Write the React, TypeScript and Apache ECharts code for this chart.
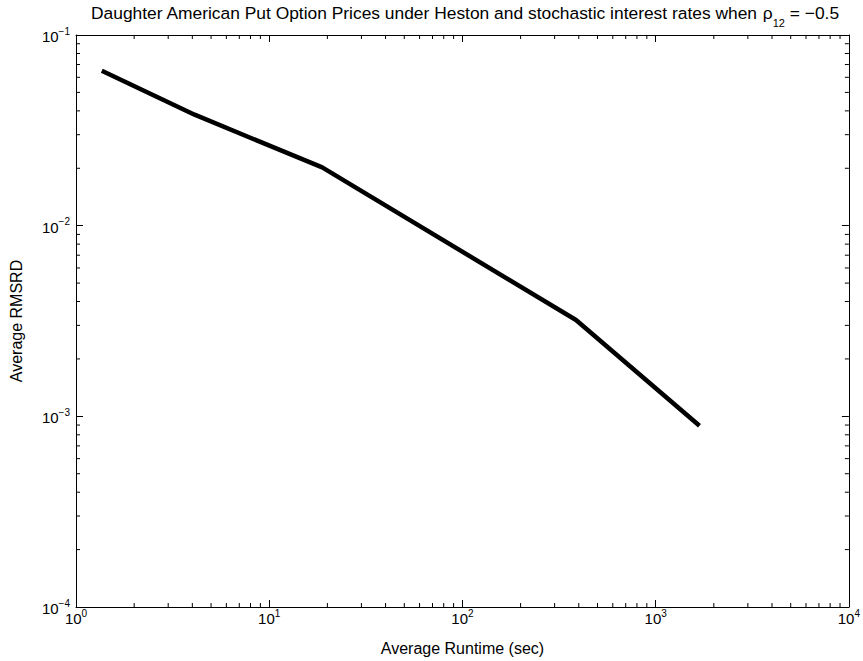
import React, { useEffect, useRef } from "react";
import * as echarts from "echarts";

const runtimeSec = [1.36, 4.11, 18.8, 387, 1686];
const avgRmsrd = [0.0649, 0.0382, 0.0202, 0.0032, 0.000893];
const xRange = [1, 10000];
const yRange = [0.0001, 0.1];
const minorMultipliers = [2, 3, 4, 5, 6, 7, 8, 9];

const FONT = "'Liberation Sans', Arial, Helvetica, sans-serif";

const expLabel = (v: number) => {
  const e = Math.round(Math.log10(v));
  const s = e < 0 ? "\u2212" + Math.abs(e) : String(e);
  return "{base|10}{sup|" + s + "}";
};

const labelRich = {
  base: { fontSize: 15, fontFamily: FONT, color: "#000", lineHeight: 18, verticalAlign: "bottom" },
  sup: { fontSize: 10, fontFamily: FONT, color: "#000", verticalAlign: "top", lineHeight: 18 },
};

export default function App() {
  const ref = useRef<HTMLDivElement>(null);
  useEffect(() => {
    if (!ref.current) return;
    const chart = echarts.init(ref.current, undefined, { renderer: "svg" });
    const axisCommon = {
      type: "log" as const,
      logBase: 10,
      axisLine: { show: true, lineStyle: { color: "#000", width: 1 } },
      axisTick: { show: true, inside: true, length: 7, lineStyle: { color: "#000", width: 1 } },
      splitLine: { show: false },
      minorTick: { show: false },
    };
    chart.setOption({
      animation: false,
      backgroundColor: "#fff",
      textStyle: { fontFamily: FONT },
      title: {
        text: "Daughter American Put Option Prices under Heston and stochastic interest rates when {t|\u03C1}{s|12}{t| = \u22120.5}",
        left: 86,
        top: -2,
        textStyle: {
          fontSize: 17.4,
          fontWeight: "normal",
          fontFamily: FONT,
          color: "#000",
          lineHeight: 20,
          rich: {
            t: { fontSize: 17.4, fontFamily: FONT, color: "#000", lineHeight: 20 },
            s: { fontSize: 11, fontFamily: FONT, color: "#000", verticalAlign: "bottom", lineHeight: 20, padding: [0, 0, -5, 0] },
          },
        },
      },
      grid: { left: 73, top: 35, right: 14, bottom: 52, containLabel: false },
      xAxis: [
        {
          ...axisCommon,
          min: xRange[0],
          max: xRange[1],
          position: "bottom",
          name: "Average Runtime (sec)",
          nameLocation: "middle",
          nameGap: 33,
          nameTextStyle: { fontSize: 16, fontFamily: FONT, color: "#000" },
          axisLabel: { show: true, margin: 1, fontSize: 15, fontFamily: FONT, color: "#000", formatter: expLabel, rich: labelRich },
        },
        {
          ...axisCommon,
          min: xRange[0],
          max: xRange[1],
          position: "top",
          axisLabel: { show: false },
        },
      ],
      yAxis: [
        {
          ...axisCommon,
          min: yRange[0],
          max: yRange[1],
          position: "left",
          name: "Average RMSRD",
          nameLocation: "middle",
          nameGap: 52,
          nameTextStyle: { fontSize: 16, fontFamily: FONT, color: "#000" },
          axisLabel: { show: true, margin: 6, fontSize: 15, fontFamily: FONT, color: "#000", formatter: expLabel, rich: labelRich },
        },
        {
          ...axisCommon,
          min: yRange[0],
          max: yRange[1],
          position: "right",
          axisLabel: { show: false },
        },
      ],
      series: [
        {
          type: "line",
          data: runtimeSec.map((x, i) => [x, avgRmsrd[i]]),
          showSymbol: false,
          symbol: "none",
          lineStyle: { color: "#000", width: 4.5 },
          xAxisIndex: 0,
          yAxisIndex: 0,
        },
      ],
    });

    // minor ticks on log axes, placed via the axes' own scales
    const graphics: any[] = [];
    const yBottom = chart.convertToPixel({ yAxisIndex: 0 }, yRange[0]) as number;
    const yTop = chart.convertToPixel({ yAxisIndex: 0 }, yRange[1]) as number;
    const xLeft = chart.convertToPixel({ xAxisIndex: 0 }, xRange[0]) as number;
    const xRight = chart.convertToPixel({ xAxisIndex: 0 }, xRange[1]) as number;
    const tickLen = 4;
    const style = { stroke: "#000", lineWidth: 1 };
    for (let d = 0; d < 4; d++) {
      for (const k of minorMultipliers) {
        const v = k * Math.pow(10, d);
        const px = chart.convertToPixel({ xAxisIndex: 0 }, v) as number;
        graphics.push({ type: "line", shape: { x1: px, y1: yBottom, x2: px, y2: yBottom - tickLen }, style, silent: true });
        graphics.push({ type: "line", shape: { x1: px, y1: yTop, x2: px, y2: yTop + tickLen }, style, silent: true });
      }
    }
    for (let d = -4; d < -1; d++) {
      for (const k of minorMultipliers) {
        const v = k * Math.pow(10, d);
        const py = chart.convertToPixel({ yAxisIndex: 0 }, v) as number;
        graphics.push({ type: "line", shape: { x1: xLeft, y1: py, x2: xLeft + tickLen, y2: py }, style, silent: true });
        graphics.push({ type: "line", shape: { x1: xRight, y1: py, x2: xRight - tickLen, y2: py }, style, silent: true });
      }
    }
    chart.setOption({ graphic: graphics });

    return () => chart.dispose();
  }, []);
  return <div ref={ref} style={{ width: 863, height: 661, position: "fixed", left: 0, top: 0 }} />;
}
